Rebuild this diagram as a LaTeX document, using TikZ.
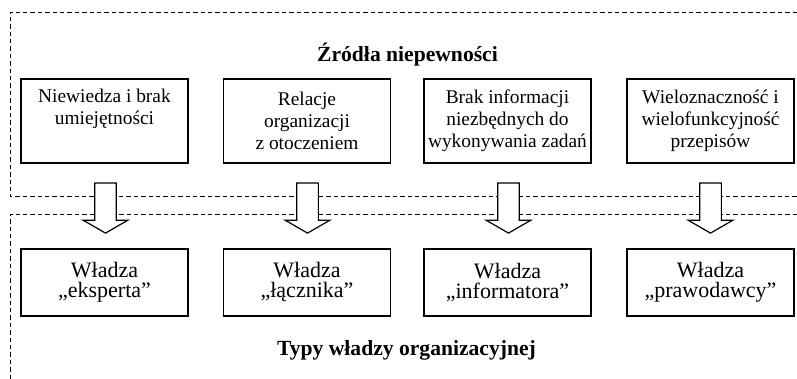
\documentclass[tikz,border=0pt]{standalone}
\usepackage{fontspec}
\setmainfont{Liberation Serif}
\usetikzlibrary{shapes.arrows}

\begin{document}
\begin{tikzpicture}[
	frameline/.style={line width=0.5pt, dash pattern=on 2.2pt off 1.5pt},
	srcbox/.style={draw, line width=0.6pt, minimum width=83.5pt, minimum height=42pt, inner xsep=1pt, align=center, font=\fontsize{9.7pt}{11.05pt}\selectfont},
	powbox/.style={draw, line width=0.6pt, minimum width=83.5pt, minimum height=33.5pt, inner xsep=1pt, align=center, font=\fontsize{11pt}{10pt}\selectfont},
	downarrow/.style={single arrow, draw, fill=white, line width=0.6pt, rotate=-90, minimum height=0.879cm, inner xsep=0pt, inner ysep=0.18cm, single arrow head extend=0.2cm, single arrow tip angle=120},
	title/.style={anchor=base, font=\fontsize{10.8pt}{13pt}\selectfont\bfseries}]
	\useasboundingbox (0,0) rectangle (14.006,-6.660);
	% dashed frames
	\draw[frameline] (14.006,-0.211) -- (0.176,-0.211) -- (0.176,-3.453) -- (14.006,-3.453);
	\draw[frameline] (14.006,-3.769) -- (0.176,-3.769) -- (0.176,-6.660);
	% titles
	\node[title] (srct) at (7.161,-1.072) {Źródła niepewności};
	\node[title] (powt) at (7.143,-6.247) {Typy władzy organizacyjnej};
	% sources
	\node[srcbox] (s1) at (1.836,-2.126)  {Niewiedza i brak\\umiejętności\\\strut};
	\node[srcbox] (s2) at (5.395,-2.126)  {Relacje\\organizacji\\z otoczeniem};
	\node[srcbox] (s3) at (8.918,-2.126)  {Brak informacji\\niezbędnych do\\wykonywania zadań};
	\node[srcbox] (s4) at (12.486,-2.126) {Wieloznaczność i\\wielofunkcyjność\\przepisów};
	% power types
	\node[powbox] (p1) at (1.836,-4.964)  {Władza\\„eksperta”};
	\node[powbox] (p2) at (5.395,-4.964)  {Władza\\„łącznika”};
	\node[powbox] (p3) at (8.918,-4.964)  {Władza\\„informatora”};
	\node[powbox] (p4) at (12.486,-4.964) {Władza\\„prawodawcy”};
	% arrows
	\node[downarrow] (a1) at (1.854,-3.602)  {};
	\node[downarrow] (a2) at (5.404,-3.602)  {};
	\node[downarrow] (a3) at (8.936,-3.602)  {};
	\node[downarrow] (a4) at (12.486,-3.602) {};
\end{tikzpicture}
\end{document}
